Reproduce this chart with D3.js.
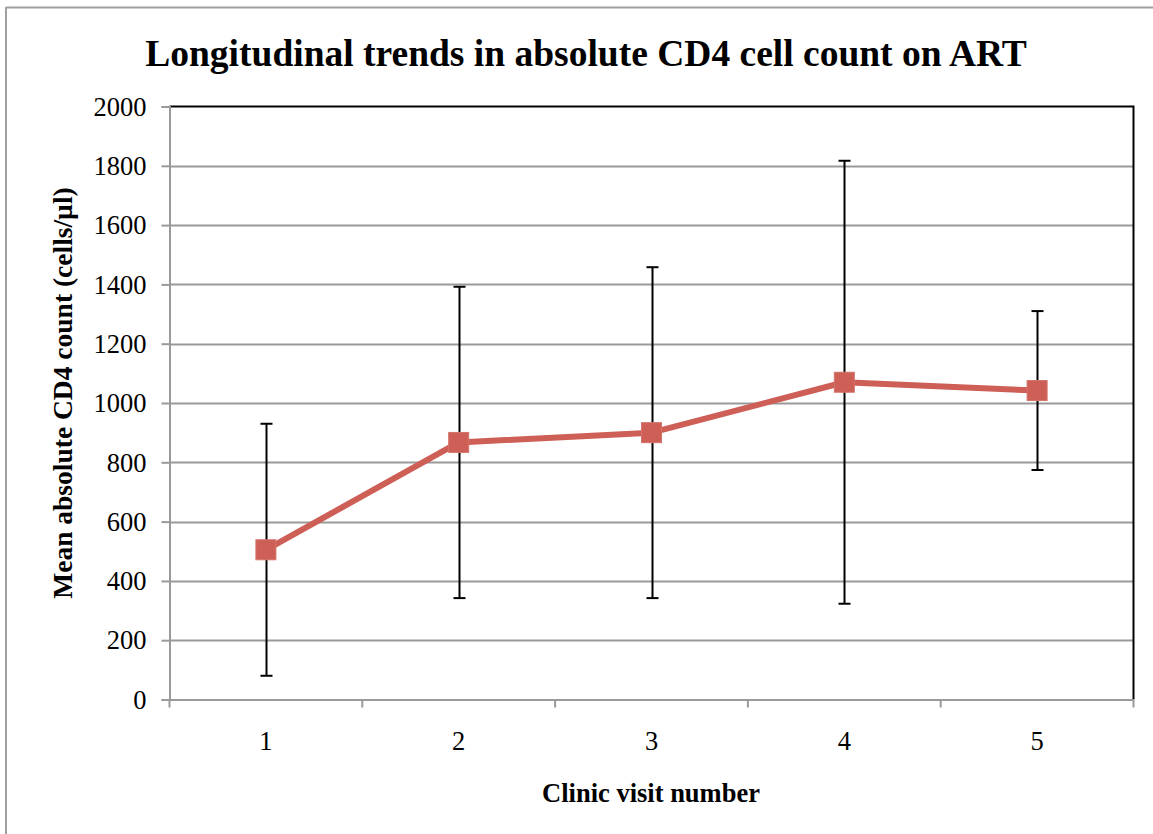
<!DOCTYPE html>
<html>
<head>
<meta charset="utf-8">
<script src="https://cdn.jsdelivr.net/npm/d3@7/dist/d3.min.js"></script>
<style>
html,body{margin:0;padding:0;background:#fff;}
svg{display:block;}
</style>
</head>
<body>
<svg id="chart" width="1153" height="834"></svg>
<script>
const categories = ["1", "2", "3", "4", "5"];
const means = [505, 867, 900, 1070, 1042];
const sds = [425, 525, 558, 747, 268];
const yTicks = [0, 200, 400, 600, 800, 1000, 1200, 1400, 1600, 1800, 2000];
const titleText = "Longitudinal trends in absolute CD4 cell count on ART";
const xTitle = "Clinic visit number";
const yTitle = "Mean absolute CD4 count (cells/µl)";

const svg = d3.select("#chart");
const W = 1153, H = 834;
const m = {left: 169.5, right: 1133.5, top: 106.5, bottom: 699.5};
const font = "'Liberation Serif','Times New Roman',serif";

// outer frame (top and left visible)
svg.append("line").attr("x1", 6).attr("x2", W).attr("y1", 7.5).attr("y2", 7.5)
  .attr("stroke", "#a0a0a0").attr("stroke-width", 2);
svg.append("line").attr("x1", 6).attr("x2", 6).attr("y1", 7).attr("y2", H)
  .attr("stroke", "#a0a0a0").attr("stroke-width", 2);

const x = d3.scaleBand().domain(categories).range([m.left, m.right]);
const y = d3.scaleLinear().domain([0, 2000]).range([m.bottom, m.top]);

// gridlines
svg.append("g").selectAll("line").data(yTicks.filter(d => d > 0 && d < 2000)).join("line")
  .attr("x1", m.left).attr("x2", m.right)
  .attr("y1", d => Math.round(y(d)) + 0.5).attr("y2", d => Math.round(y(d)) + 0.5)
  .attr("stroke", "#9a9a9a").attr("stroke-width", 2);

// plot border top & right (black)
svg.append("path")
  .attr("d", `M${m.left},${m.top}H${m.right}V${m.bottom}`)
  .attr("fill", "none").attr("stroke", "#000").attr("stroke-width", 2);

// y axis
const yAxis = d3.axisLeft(y).tickValues(yTicks).tickSize(8).tickPadding(15).tickFormat(d3.format("d"));
const gy = svg.append("g").attr("transform", `translate(${m.left},0)`).call(yAxis);
gy.select(".domain").attr("stroke", "#9a9a9a").attr("stroke-width", 2);
gy.selectAll(".tick line").attr("stroke", "#9a9a9a").attr("stroke-width", 2);
gy.selectAll(".tick text").attr("font-family", font).attr("font-size", 26.5).attr("fill", "#000")
  .attr("dy", "0.33em");

// x axis
const xAxis = d3.axisBottom(x).tickSize(0).tickPadding(32);
const gx = svg.append("g").attr("transform", `translate(0,${m.bottom})`).call(xAxis);
gx.select(".domain").attr("stroke", "#9a9a9a").attr("stroke-width", 2);
gx.selectAll(".tick text").attr("font-family", font).attr("font-size", 26.5).attr("fill", "#000");
// boundary ticks
const bounds = categories.map(c => x(c)).concat([x(categories[categories.length - 1]) + x.bandwidth()]);
gx.append("g").selectAll("line").data(bounds).join("line")
  .attr("x1", d => d).attr("x2", d => d).attr("y1", 0).attr("y2", 8)
  .attr("stroke", "#9a9a9a").attr("stroke-width", 2);

const cx = c => x(c) + x.bandwidth() / 2;
const data = categories.map((c, i) => ({c, m: means[i], sd: sds[i]}));

// error bars
const eb = svg.append("g").attr("stroke", "#000").attr("stroke-width", 2);
data.forEach(d => {
  const px = Math.round(cx(d.c)) + 0.5;
  eb.append("line").attr("x1", px).attr("x2", px).attr("y1", y(d.m + d.sd)).attr("y2", y(d.m - d.sd));
  eb.append("line").attr("x1", px - 6).attr("x2", px + 6).attr("y1", y(d.m + d.sd)).attr("y2", y(d.m + d.sd));
  eb.append("line").attr("x1", px - 6).attr("x2", px + 6).attr("y1", y(d.m - d.sd)).attr("y2", y(d.m - d.sd));
});

// line
const red = "#cd5f56";
svg.append("path").datum(data)
  .attr("d", d3.line().x(d => cx(d.c)).y(d => y(d.m)))
  .attr("fill", "none").attr("stroke", red).attr("stroke-width", 6).attr("stroke-linejoin", "round");

// markers
svg.append("g").selectAll("rect").data(data).join("rect")
  .attr("x", d => cx(d.c) - 10).attr("y", d => y(d.m) - 10)
  .attr("width", 20).attr("height", 20)
  .attr("fill", red).attr("stroke", "#d4736a").attr("stroke-width", 1);

// titles
svg.append("text").attr("x", 586).attr("y", 66).attr("text-anchor", "middle")
  .attr("font-family", font).attr("font-weight", "bold").attr("font-size", 37.5).text(titleText);
svg.append("text").attr("x", 651).attr("y", 802).attr("text-anchor", "middle")
  .attr("font-family", font).attr("font-weight", "bold").attr("font-size", 26.5).text(xTitle);
svg.append("text").attr("transform", `translate(62,${(m.top + m.bottom) / 2 - 10}) rotate(-90)`)
  .attr("text-anchor", "middle").attr("dy", "0.35em")
  .attr("font-family", font).attr("font-weight", "bold").attr("font-size", 27.5).text(yTitle);
</script>
</body>
</html>
